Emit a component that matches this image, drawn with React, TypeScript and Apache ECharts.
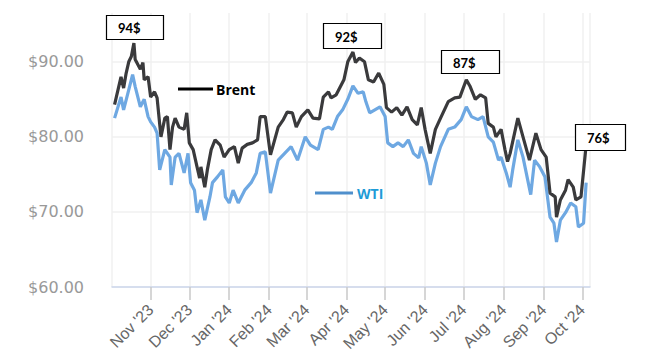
import React, { useEffect, useRef } from "react";
import * as echarts from "echarts";

const brentDates = [
  "2023-10-04","2023-10-09","2023-10-11","2023-10-13","2023-10-15","2023-10-17","2023-10-19","2023-10-20","2023-10-24","2023-10-26","2023-10-27","2023-10-30",
  "2023-11-01","2023-11-04","2023-11-06","2023-11-09","2023-11-12","2023-11-14","2023-11-16","2023-11-18","2023-11-20","2023-11-23","2023-11-27","2023-11-29",
  "2023-12-01","2023-12-04","2023-12-07","2023-12-09","2023-12-10","2023-12-13","2023-12-15","2023-12-18","2023-12-21","2023-12-25","2023-12-28",
  "2024-01-01","2024-01-05","2024-01-08","2024-01-11","2024-01-15","2024-01-19","2024-01-23","2024-01-25","2024-01-29",
  "2024-02-02","2024-02-08","2024-02-12","2024-02-15","2024-02-19","2024-02-22","2024-02-26",
  "2024-03-02","2024-03-06","2024-03-11","2024-03-14","2024-03-18","2024-03-20","2024-03-24","2024-03-30",
  "2024-04-02","2024-04-06","2024-04-08","2024-04-11","2024-04-15","2024-04-18","2024-04-22","2024-04-26","2024-04-30",
  "2024-05-02","2024-05-06","2024-05-10","2024-05-14","2024-05-18","2024-05-22","2024-05-26","2024-05-29",
  "2024-06-01","2024-06-05","2024-06-09","2024-06-13","2024-06-19","2024-06-24","2024-06-28",
  "2024-07-03","2024-07-06","2024-07-10","2024-07-14","2024-07-18","2024-07-20","2024-07-24","2024-07-26","2024-07-30",
  "2024-08-02","2024-08-04","2024-08-06","2024-08-12","2024-08-16","2024-08-21","2024-08-26","2024-08-30",
  "2024-09-03","2024-09-06","2024-09-10","2024-09-11","2024-09-14","2024-09-18","2024-09-20","2024-09-24","2024-09-26","2024-09-30",
  "2024-10-04",
];
const brentValues = [
  84.3, 88.0, 86.5, 88.5, 90.0, 90.7, 92.5, 90.3, 89.0, 89.9, 87.6, 88.0,
  85.3, 86.0, 85.2, 80.0, 82.5, 82.7, 78.3, 81.3, 82.5, 81.3, 81.0, 83.2,
  79.2, 78.3, 76.0, 74.5, 76.0, 73.3, 75.6, 78.3, 79.6, 78.9, 77.3,
  78.3, 78.7, 76.5, 78.5, 79.0, 79.2, 79.6, 82.7, 82.7,
  77.6, 81.3, 82.3, 83.3, 83.2, 81.3, 82.7,
  83.6, 82.5, 82.4, 85.3, 86.0, 85.2, 85.6, 87.6,
  90.0, 91.3, 89.9, 90.5, 90.0, 87.6, 87.3, 88.5, 87.0,
  83.9, 83.3, 83.9, 82.9, 84.0, 82.3, 81.6, 83.9,
  81.0, 77.8, 81.0, 82.5, 84.7, 85.2, 85.3,
  87.6, 86.7, 85.0, 85.6, 85.2, 81.8, 81.3, 80.0, 81.0,
  78.3, 76.7, 77.8, 82.5, 80.0, 76.9, 80.5, 78.3,
  77.3, 72.5, 72.0, 69.3, 71.6, 72.9, 74.3, 73.3, 71.6, 72.0,
  78.9,
];

const wtiDates = [
  "2023-10-04","2023-10-09","2023-10-11","2023-10-14","2023-10-18","2023-10-20","2023-10-24","2023-10-27","2023-10-30",
  "2023-11-01","2023-11-04","2023-11-06","2023-11-08","2023-11-12","2023-11-16","2023-11-17","2023-11-20","2023-11-23","2023-11-27","2023-11-30",
  "2023-12-02","2023-12-05","2023-12-07","2023-12-10","2023-12-13","2023-12-17","2023-12-19","2023-12-23","2023-12-27","2023-12-29",
  "2024-01-01","2024-01-04","2024-01-08","2024-01-13","2024-01-18","2024-01-22","2024-01-25","2024-01-29",
  "2024-02-02","2024-02-08","2024-02-13","2024-02-18","2024-02-23","2024-02-29",
  "2024-03-04","2024-03-10","2024-03-14","2024-03-18","2024-03-21","2024-03-25","2024-03-29",
  "2024-04-02","2024-04-06","2024-04-10","2024-04-14","2024-04-16","2024-04-19","2024-04-23","2024-04-27",
  "2024-05-01","2024-05-03","2024-05-07","2024-05-11","2024-05-15","2024-05-19","2024-05-23","2024-05-27","2024-05-29",
  "2024-06-02","2024-06-05","2024-06-09","2024-06-13","2024-06-19","2024-06-24","2024-06-29",
  "2024-07-03","2024-07-07","2024-07-12","2024-07-16","2024-07-20","2024-07-24","2024-07-28","2024-07-30",
  "2024-08-03","2024-08-06","2024-08-08","2024-08-12","2024-08-16","2024-08-22","2024-08-25","2024-08-29",
  "2024-09-02","2024-09-06","2024-09-09","2024-09-11","2024-09-14","2024-09-18","2024-09-22","2024-09-26","2024-09-28",
  "2024-10-02","2024-10-04",
];
const wtiValues = [
  82.5, 85.3, 83.6, 85.6, 88.3, 86.7, 84.0, 85.0, 82.7,
  82.0, 81.3, 80.5, 75.6, 78.3, 77.3, 73.6, 77.3, 77.8, 75.2, 77.8,
  73.9, 72.9, 69.9, 71.6, 68.9, 72.0, 73.9, 74.7, 75.6, 72.0,
  71.2, 72.9, 71.2, 72.9, 73.9, 75.2, 77.8, 78.0,
  72.5, 76.9, 77.8, 78.7, 76.9, 80.0,
  78.9, 78.3, 81.0, 81.3, 81.0, 82.7, 83.6,
  85.0, 86.8, 85.8, 86.0, 84.7, 83.2, 83.6, 84.0,
  82.7, 79.2, 78.7, 79.2, 78.7, 79.6, 77.8, 77.2, 78.7,
  76.5, 73.6, 76.5, 78.7, 81.0, 81.3, 82.3,
  84.0, 82.7, 82.3, 82.7, 80.0, 79.3, 76.9, 77.3,
  75.2, 73.3, 75.6, 79.6, 77.3, 72.3, 76.9, 76.0,
  74.7, 69.3, 68.5, 66.0, 68.9, 69.9, 71.2, 70.7, 68.0,
  68.5, 73.9,
];

const yTicks = [60, 70, 80, 90];
const monthNames = ["Jan","Feb","Mar","Apr","May","Jun","Jul","Aug","Sep","Oct","Nov","Dec"];

const peakLabels = [
  { text: "94$", x: 106, y: 15, w: 57, h: 24 },
  { text: "92$", x: 323, y: 23, w: 58, h: 25 },
  { text: "87$", x: 441, y: 50, w: 58, h: 23 },
  { text: "76$", x: 575, y: 124, w: 50, h: 26 },
];

function toTime(s: string) {
  const [y, m, d] = s.split("-").map(Number);
  return new Date(y, m - 1, d).getTime();
}

export default function App() {
  const ref = useRef<HTMLDivElement>(null);
  useEffect(() => {
    document.body.style.margin = "0";
    if (!ref.current) return;
    const chart = echarts.init(ref.current, undefined, { renderer: "svg" });
    const brentData = brentDates.map((d, i) => [toTime(d), brentValues[i]]);
    const wtiData = wtiDates.map((d, i) => [toTime(d), wtiValues[i]]);
    const graphics: any[] = [];
    peakLabels.forEach((p) => {
      graphics.push({
        type: "rect",
        shape: { x: p.x + 0.5, y: p.y + 0.5, width: p.w, height: p.h },
        style: { fill: "#fff", stroke: "#000", lineWidth: 1.2 },
        z: 100,
      });
      graphics.push({
        type: "text",
        x: p.x + 12,
        y: p.y + p.h / 2 + 1,
        style: {
          text: p.text,
          fill: "#000",
          font: "bold 13px Lato, 'Open Sans', sans-serif",
          verticalAlign: "middle",
          align: "left",
        },
        z: 101,
      });
    });
    graphics.push(
      { type: "line", shape: { x1: 178, y1: 89, x2: 213, y2: 89 }, style: { stroke: "#000", lineWidth: 3 }, z: 100 },
      { type: "text", x: 216, y: 89, style: { text: "Brent", fill: "#000", font: "bold 14px 'Open Sans', sans-serif", verticalAlign: "middle" }, z: 100 },
      { type: "line", shape: { x1: 315, y1: 193, x2: 353, y2: 193 }, style: { stroke: "#4f8fcc", lineWidth: 3 }, z: 100 },
      { type: "text", x: 357, y: 193, style: { text: "WTI", fill: "#1e9bd7", font: "bold 14px 'Open Sans', sans-serif", verticalAlign: "middle" }, z: 100 }
    );

    chart.setOption({
      animation: false,
      backgroundColor: "#fff",
      grid: { left: 112, right: 56, top: 13, bottom: 76 },
      xAxis: {
        type: "time",
        min: toTime("2023-10-02"),
        max: toTime("2024-10-07"),
        splitNumber: 12,
        minInterval: 28 * 86400000,
        maxInterval: 31 * 86400000,
        axisLine: { show: true, lineStyle: { color: "#ccd6eb", width: 1.5 } },
        axisTick: { show: true, length: 13, lineStyle: { color: "#c8c8c8", width: 1.5 } },
        splitLine: { show: true, lineStyle: { color: "#f0f0f0", width: 1.5 } },
        axisLabel: {
          rotate: 45,
          fontSize: 16,
          color: "#666",
          fontFamily: "'Liberation Sans', Arial, sans-serif",
          margin: 20,
          showMinLabel: false,
          showMaxLabel: false,
          hideOverlap: false,
          formatter: (v: number) => {
            const d = new Date(v);
            return monthNames[d.getMonth()] + " '" + String(d.getFullYear()).slice(2);
          },
        },
      },
      yAxis: {
        type: "value",
        min: yTicks[0],
        max: 96.5,
        interval: 10,
        axisLine: { show: false },
        axisTick: { show: false },
        splitLine: { show: true, showMaxLine: false, lineStyle: { color: "#f0f0f0", width: 1.5 } },
        axisLabel: {
          fontSize: 16,
          color: "#999",
          fontFamily: "'DejaVu Sans', sans-serif",
          margin: 28,
          align: "right",
          showMaxLabel: false,
          formatter: (v: number) => (yTicks.includes(v) ? "$" + v.toFixed(2) : ""),
        },
      },
      series: [
        {
          name: "WTI",
          type: "line",
          data: wtiData,
          symbol: "none",
          lineStyle: { color: "#6ea8e2", width: 3.2 },
          z: 2,
        },
        {
          name: "Brent",
          type: "line",
          data: brentData,
          symbol: "none",
          lineStyle: { color: "#3a3a3c", width: 3.2 },
          z: 3,
        },
      ],
      graphic: graphics,
    });
    return () => chart.dispose();
  }, []);
  return <div ref={ref} style={{ width: 646, height: 363 }} />;
}
